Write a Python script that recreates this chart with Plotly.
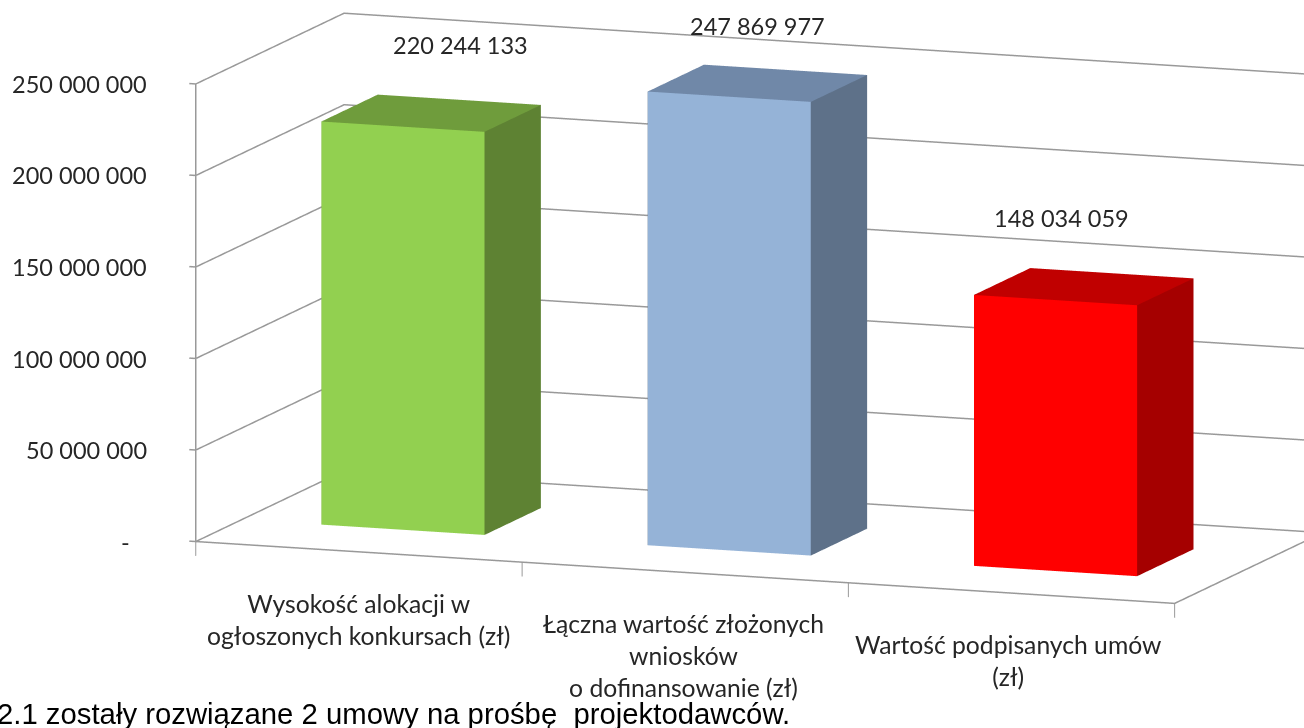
import math
import plotly.graph_objects as go

categories = ["Wysokość alokacji w<br>ogłoszonych konkursach (zł)",
              "Łączna wartość złożonych<br>wniosków<br>o dofinansowanie (zł)",
              "Wartość podpisanych umów<br>(zł)"]
category_dx = [0, -2, -4]
values = [220244133, 247869977, 148034059]
value_labels = ["220 244 133", "247 869 977", "148 034 059"]
value_label_dx = [29, 0, -22]
value_label_dy = [68, 57, 69]
tick_values = [0, 50000000, 100000000, 150000000, 200000000, 250000000]
tick_labels = ["-", "50 000 000", "100 000 000", "150 000 000", "200 000 000", "250 000 000"]
tick_label_dx = [-64, -47, -47, -47, -47, -47]
front_colors = ["#92D050", "#95B3D7", "#FF0000"]
side_colors = ["#5E8233", "#5E7189", "#A50000"]
top_colors = ["#6F9C3C", "#7088A8", "#C00000"]

GRID = "#999999"
TEXT = "#262626"
FONT = "Lato"
BAR_W = 0.5
BAR_D = 0.38
BAR_C = 0.494
XMAX = len(values)
ZMAX = tick_values[-1]
ZPAD = 12000000
XPAD = 0.05
YPAD = 0.02

fig = go.Figure()

def line(xs, ys, zs, width=3):
    fig.add_trace(go.Scatter3d(x=xs, y=ys, z=zs, mode="lines", showlegend=False, hoverinfo="skip",
                               line=dict(color=GRID, width=width)))

# walls
for t in tick_values:
    line([-0.02, 0, 0, XMAX], [0, 0, 1, 1], [t, t, t, t])
line([0, 0], [0, 0], [0, ZMAX])
line([XMAX, XMAX, 0], [1, 0, 0], [0, 0, 0])
for k in range(XMAX + 1):
    line([k, k], [0, 0], [0, -ZPAD * 0.65], width=2)

# bars
for n, v in enumerate(values):
    x0, x1 = n + BAR_C - BAR_W / 2, n + BAR_C + BAR_W / 2
    y0, y1 = 0.5 - BAR_D / 2, 0.5 + BAR_D / 2
    X = [x0, x1, x1, x0, x0, x1, x1, x0]
    Y = [y0, y0, y1, y1, y0, y0, y1, y1]
    Z = [0, 0, 0, 0, v, v, v, v]
    tris = [(0, 1, 5), (0, 5, 4), (1, 2, 6), (1, 6, 5), (4, 5, 6), (4, 6, 7),
            (0, 3, 7), (0, 7, 4), (3, 2, 6), (3, 6, 7)]
    cols = [front_colors[n]] * 2 + [side_colors[n]] * 2 + [top_colors[n]] * 2 + [side_colors[n]] * 4
    fig.add_trace(go.Mesh3d(x=X, y=Y, z=Z, i=[t[0] for t in tris], j=[t[1] for t in tris], k=[t[2] for t in tris],
                            facecolor=cols, flatshading=True, hoverinfo="skip", showscale=False,
                            lighting=dict(ambient=1, diffuse=0, specular=0, fresnel=0, roughness=1)))

ann = []
for t, lab, dx in zip(tick_values, tick_labels, tick_label_dx):
    ann.append(dict(x=0, y=0, z=t, text=lab, showarrow=False, xanchor="right", yanchor="middle", xshift=dx,
                    font=dict(family=FONT, size=23.5, color=TEXT)))
for n, (v, lab) in enumerate(zip(values, value_labels)):
    ann.append(dict(x=n + BAR_C, y=0.5, z=v, text=lab, showarrow=False, xanchor="center", yanchor="middle",
                    xshift=value_label_dx[n], yshift=value_label_dy[n],
                    font=dict(family=FONT, size=23.5, color=TEXT)))
for n, lab in enumerate(categories):
    ann.append(dict(x=n + 0.5, y=0, z=0, text=lab, showarrow=False, xanchor="center", yanchor="top", yshift=-35,
                    xshift=category_dx[n], font=dict(family=FONT, size=24.7, color=TEXT)))

az, el = math.radians(20), math.radians(10)
D = 2.0
AS = 2.757
dirv = (math.cos(el) * math.sin(az), -math.cos(el) * math.cos(az), math.sin(el))
right = (math.cos(az), math.sin(az), 0)
up = (-math.sin(el) * math.sin(az), math.sin(el) * math.cos(az), math.cos(el))
SHIFT_R, SHIFT_U = 0.295, 0.153
cen = [-SHIFT_R * right[i] - SHIFT_U * up[i] for i in range(3)]
noaxis = dict(visible=False, showgrid=False, showbackground=False, zeroline=False, showspikes=False)
fig.update_layout(
    width=1304, height=728, margin=dict(l=0, r=0, t=0, b=0), paper_bgcolor="white", showlegend=False,
    scene=dict(
        domain=dict(x=[0, 1], y=[0, 1]),
        xaxis=dict(noaxis, range=[-XPAD, XMAX + XPAD]),
        yaxis=dict(noaxis, range=[-YPAD, 1 + YPAD]),
        zaxis=dict(noaxis, range=[-ZPAD, ZMAX + ZPAD]),
        aspectmode="manual",
        aspectratio=dict(x=AS * 1.038 * (XMAX + 2 * XPAD) / XMAX, y=AS * 0.432 * (1 + 2 * YPAD),
                         z=AS * 0.463 * (ZMAX + 2 * ZPAD) / ZMAX),
        camera=dict(projection=dict(type="orthographic"), up=dict(x=0, y=0, z=1),
                    center=dict(x=cen[0], y=cen[1], z=cen[2]),
                    eye=dict(x=cen[0] + D * dirv[0], y=cen[1] + D * dirv[1], z=cen[2] + D * dirv[2])),
        annotations=ann,
    ),
    annotations=[dict(xref="paper", yref="paper", x=0, y=0, xanchor="left", yanchor="bottom", showarrow=False,
                      xshift=-5, yshift=-4,
                      text="2.1 zostały rozwiązane 2 umowy na prośbę  projektodawców.",
                      font=dict(family="Liberation Sans", size=29.3, color="black"))],
)
fig.write_html("out.html", config=dict(displayModeBar=False),
               post_script="document.body.style.margin='0';document.body.style.overflow='hidden';")
